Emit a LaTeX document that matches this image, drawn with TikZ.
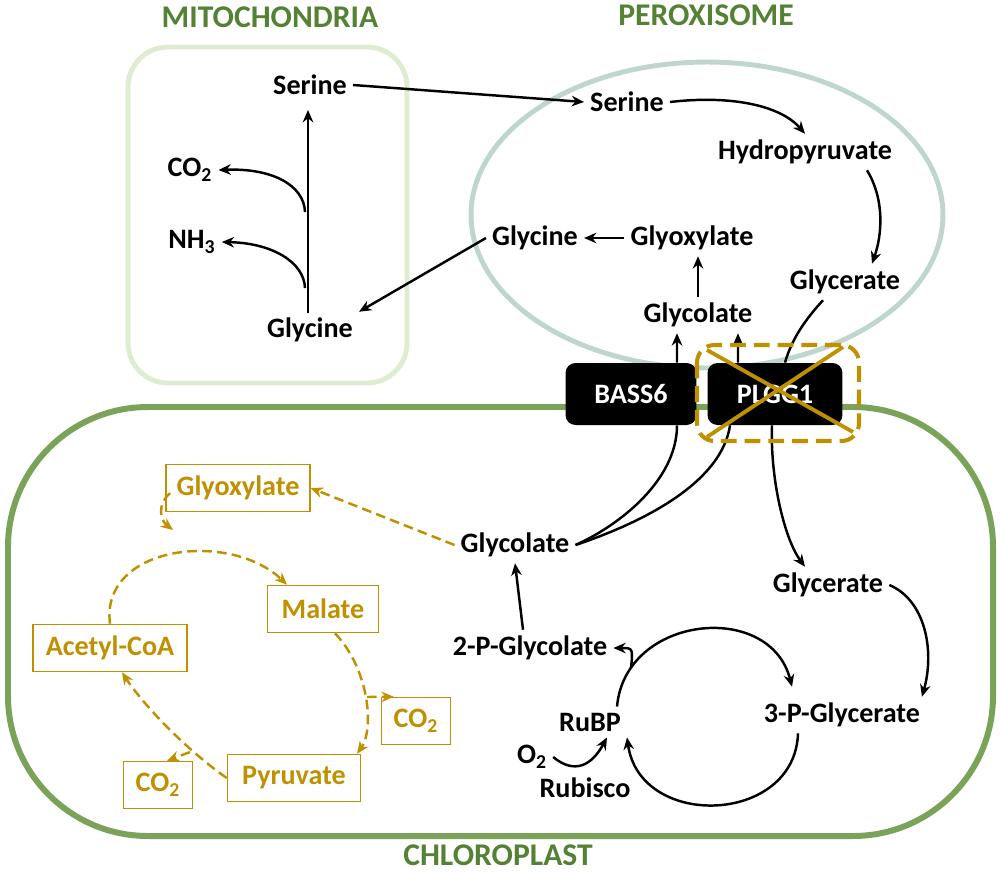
\documentclass[tikz,border=0pt]{standalone}
\usepackage{fontspec}
\setmainfont{Carlito}
\usepackage{xcolor}
\usepackage{tikz}
\usetikzlibrary{arrows.meta}
\definecolor{mitoline}{RGB}{222,237,208}
\definecolor{peroxline}{RGB}{190,214,203}
\definecolor{chloroline}{RGB}{122,162,88}
\definecolor{titlegreen}{RGB}{84,130,53}
\definecolor{gold}{RGB}{191,144,0}
\newcommand{\cotwo}{CO\textsubscript{2}}

\begin{document}
\begin{tikzpicture}[x=0.02cm, y=-0.02cm, >={Stealth[length=7pt, width=6pt]},
  font=\bfseries\fontsize{16}{19}\selectfont,
  flow/.style={->, line width=1.4pt},
  link/.style={line width=1.4pt},
  gflow/.style={->, gold, line width=1.4pt, dash pattern=on 5.5pt off 3pt},
  gbox/.style={draw=gold, text=gold, line width=0.9pt, minimum height=0.94cm, inner xsep=6pt},
  transp/.style={fill=black, text=white, rounded corners=0.2cm, minimum height=1.24cm},
  title/.style={text=titlegreen, font=\bfseries\fontsize{18}{21}\selectfont}]
  \useasboundingbox (0,0) rectangle (1000,872);
  % The three compartments.
  \draw[mitoline, line width=2.8pt, rounded corners=0.8cm] (128,47) rectangle (407,383);
  \draw[peroxline, line width=2.8pt] (707,215) ellipse [x radius=4.72cm, y radius=3.06cm];
  \draw[chloroline, line width=3.4pt, rounded corners=2.8cm] (8,407) rectangle (993,836);
  \node[title] (tMito) at (270,17) {MITOCHONDRIA};
  \node[title] (tPerox) at (706,15) {PEROXISOME};
  \node[title, inner ysep=1pt] (tChloro) at (498,855) {CHLOROPLAST};
  % Mitochondria.
  \node (mSer) at (310,85) {Serine};
  \node (mCO) at (190,170) {\cotwo};
  \node (mNH) at (192,242) {NH\textsubscript{3}};
  \node (mGly) at (310,330) {Glycine};
  \coordinate (stemBot) at (308,313);
  \coordinate (stemTop) at (308,110);
  \coordinate (coBranch) at (305,212);
  \coordinate (nhBranch) at (305,288);
  \draw[flow] (stemBot) -- (stemTop);
  \draw[flow] (coBranch) .. controls (304,185) and (272,168) .. (mCO.east);
  \draw[flow] (nhBranch) .. controls (304,262) and (272,243) .. (mNH.east);
  % Peroxisome.
  \node (pSer) at (627,102) {Serine};
  \node (hyd) at (805,152) {Hydropyruvate};
  \node (pGly) at (535,238) {Glycine};
  \node (pGlyo) at (692,238) {Glyoxylate};
  \node (pGlyc) at (845,282) {Glycerate};
  \node (pGlyco) at (698,315) {Glycolate};
  \draw[flow] (mSer.east) -- (pSer.west);
  \draw[flow] (pGly.west) -- (mGly.north east);
  \draw[flow] (pSer.east) .. controls (730,95) and (780,105) .. (hyd.north);
  \draw[flow] ([xshift=1.24cm]hyd.south) .. controls (885,200) and (882,235) .. ([xshift=0.54cm]pGlyc.north);
  \draw[flow] (pGlyo.west) -- (pGly.east);
  \draw[flow] (pGlyco.north) -- (pGlyco.north |- pGlyo.south);
  % Chloroplast, photorespiration side.
  \node (chGlyco) at (515,545) {Glycolate};
  \node (chGlyc) at (828,585) {Glycerate};
  \node (pgly) at (530,648) {2-P-Glycolate};
  \node (pga) at (842,715) {3-P-Glycerate};
  \node (rubp) at (590,722) {RuBP};
  \node (oxy) at (532,757) {O\textsubscript{2}};
  \node (rubisco) at (585,788) {Rubisco};
  \node[transp, minimum width=2.62cm] (bass) at (631,394) {BASS6};
  \node[transp, minimum width=2.7cm] (plgg) at (775,394) {PLGG1};
  \draw[link] (chGlyco.east) .. controls (620,525) and (677,480) .. ([xshift=0.92cm]bass.south);
  \draw[link] (chGlyco.east) .. controls (650,520) and (722,480) .. ([xshift=-0.9cm]plgg.south);
  \draw[flow] ([xshift=0.92cm]bass.north) -- ([xshift=-0.42cm]pGlyco.south);
  \draw[flow] ([xshift=-0.74cm]plgg.north) -- ([xshift=0.8cm]pGlyco.south);
  \draw[link] ([xshift=-0.44cm]pGlyc.south) .. controls (800,325) and (790,345) .. ([xshift=0.2cm]plgg.north);
  \draw[flow] ([xshift=-0.06cm]plgg.south) .. controls (770,480) and (785,540) .. ([xshift=-0.46cm]chGlyc.north);
  \draw[flow] (chGlyc.east) .. controls (925,600) and (935,650) .. ([xshift=1.6cm]pga.north);
  \draw[flow] ([xshift=-0.14cm]pgly.north) -- (chGlyco.south);
  % The Calvin cycle.
  \draw[flow] ([xshift=-0.2cm]rubp.north east) .. controls (625,615) and (770,600) .. ([xshift=-1cm, yshift=0.2cm]pga.north);
  \draw[flow] ([xshift=-0.88cm]pga.south) .. controls (795,825) and (640,830) .. (rubp.south east);
  \coordinate (cycBranch) at (631,668);
  \draw[flow] (cycBranch) .. controls (633,648) .. (pgly.east);
  \draw[flow] (oxy.east) .. controls (575,775) and (592,765) .. ([xshift=0.34cm]rubp.south);
  % The knocked-out transporter.
  \draw[gold, line width=2.3pt, dash pattern=on 9pt off 4.5pt, rounded corners=0.35cm]
    (697,345) rectangle (859,441);
  \draw[gold, line width=2.2pt] (707,350) -- (853,432);
  \draw[gold, line width=2.2pt] (843,347) -- (707,437);
  % The glyoxylate cycle.
  \node[gbox] (gGlyo) at (238,488) {Glyoxylate};
  \node[gbox, minimum width=2.22cm] (mal) at (323,609) {Malate};
  \node[gbox, minimum width=3.08cm] (aca) at (110,648) {Acetyl-CoA};
  \node[gbox, minimum width=1.38cm] (co2R) at (416,721) {\cotwo};
  \node[gbox, minimum width=2.66cm] (pyr) at (294,778) {Pyruvate};
  \node[gbox, minimum width=1.38cm] (co2L) at (158,785) {\cotwo};
  \draw[gflow] (chGlyco.west) -- (gGlyo.east);
  \coordinate (glyoTail) at (170,493);
  \coordinate (glyoHead) at (173,530);
  \draw[gflow] (glyoTail) .. controls (157,505) and (160,520) .. (glyoHead);
  \draw[gflow] (aca.north) .. controls (100,545) and (230,530) .. ([xshift=-0.72cm]mal.north);
  \draw[gflow] ([xshift=0.24cm]mal.south) .. controls (370,670) and (374,730) .. ([xshift=1.26cm]pyr.north);
  \coordinate (malBranch) at (367,697);
  \draw[gflow] (malBranch) -- ([xshift=0.26cm]co2R.north west);
  \draw[gflow] (pyr.west) .. controls (180,745) and (140,700) .. ([xshift=0.24cm]aca.south);
  \coordinate (pyrBranch) at (190,752);
  \draw[gflow] (pyrBranch) -- ([xshift=0.18cm]co2L.north);
\end{tikzpicture}
\end{document}
